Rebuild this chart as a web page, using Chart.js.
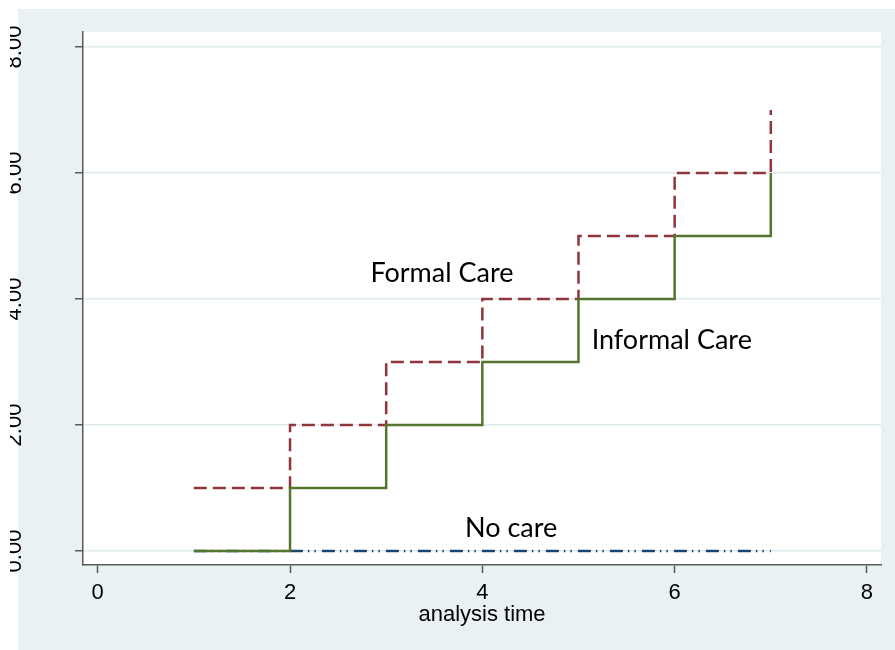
<!DOCTYPE html>
<html>
<head>
<meta charset="utf-8">
<script src="https://cdn.jsdelivr.net/npm/chart.js@4"></script>
<style>
  html, body { margin: 0; padding: 0; background: #ffffff; }
  #wrap { width: 895px; height: 650px; }
</style>
</head>
<body>
<div id="wrap"><canvas id="grafico" width="895" height="650"></canvas></div>
<script>
// datos
const tiempos = [1, 2, 3, 4, 5, 6, 7];
const cuidadoFormal = [1, 2, 3, 4, 5, 6, 7];
const cuidadoInformal = [0, 1, 2, 3, 4, 5, 6];
const sinCuidadoX = [1, 7];
const sinCuidado = [0, 0];

const ticksX = [0, 2, 4, 6, 8];
const ticksY = [0, 2, 4, 6, 8];
const etiquetasY = ["0.00", "2.00", "4.00", "6.00", "8.00"];

// etiquetas dentro del grafico (texto, x, y en unidades de datos)
const etiquetas = ["Formal Care", "Informal Care", "No care"];
const etiquetasPosX = [3.58, 5.97, 4.3];
const etiquetasPosY = [4.27, 3.21, 0.22];

const fondo = {
  id: "fondo",
  beforeDraw(chart) {
    const ctx = chart.ctx;
    const a = chart.chartArea;
    ctx.save();
    ctx.fillStyle = "#ffffff";
    ctx.fillRect(0, 0, chart.width, chart.height);
    ctx.fillStyle = "#eaf1f3";
    ctx.fillRect(18, 9, chart.width - 18, chart.height - 9);
    ctx.fillStyle = "#ffffff";
    ctx.fillRect(a.left, a.top, a.right - a.left, a.bottom - a.top);
    ctx.restore();
  }
};

const textos = {
  id: "textos",
  afterDatasetsDraw(chart) {
    const ctx = chart.ctx;
    const sx = chart.scales.x, sy = chart.scales.y;
    ctx.save();
    ctx.fillStyle = "#000000";
    ctx.font = "27px Lato";
    ctx.textAlign = "center";
    ctx.textBaseline = "alphabetic";
    etiquetas.forEach((t, i) => {
      ctx.fillText(t, sx.getPixelForValue(etiquetasPosX[i]), sy.getPixelForValue(etiquetasPosY[i]));
    });
    ctx.restore();
  },
  afterDraw(chart) {
    // etiquetas del eje y giradas y cortadas por el borde
    const ctx = chart.ctx;
    const sy = chart.scales.y;
    ctx.save();
    ctx.beginPath();
    ctx.rect(10, 0, 40, chart.height);
    ctx.clip();
    ctx.fillStyle = "#000000";
    ctx.font = "22px 'Liberation Sans'";
    ctx.textAlign = "center";
    ctx.textBaseline = "alphabetic";
    ticksY.forEach((v, i) => {
      ctx.save();
      ctx.translate(21, sy.getPixelForValue(v));
      ctx.rotate(-Math.PI / 2);
      ctx.fillText(etiquetasY[i], 0, 0);
      ctx.restore();
    });
    ctx.restore();
  }
};

const ctx = document.getElementById("grafico").getContext("2d");

new Chart(ctx, {
  type: "line",
  data: {
    datasets: [
      {
        label: "Informal Care",
        data: tiempos.map((t, i) => ({ x: t, y: cuidadoInformal[i] })),
        borderColor: "#55752f",
        borderWidth: 2.5,
        stepped: "before",
        pointRadius: 0,
        fill: false
      },
      {
        label: "Formal Care",
        data: tiempos.map((t, i) => ({ x: t, y: cuidadoFormal[i] })),
        borderColor: "#90353b",
        borderWidth: 2.5,
        borderDash: [13, 6],
        stepped: "before",
        pointRadius: 0,
        fill: false
      },
      {
        label: "No care",
        data: sinCuidadoX.map((t, i) => ({ x: t, y: sinCuidado[i] })),
        borderColor: "#1a476f",
        borderWidth: 2.5,
        borderDash: [13, 5, 1.5, 5, 1.5, 6],
        pointRadius: 0,
        fill: false
      }
    ]
  },
  options: {
    responsive: false,
    animation: false,
    events: [],
    layout: {
      padding: { left: 18, top: 32, right: 14, bottom: 0 }
    },
    plugins: {
      legend: { display: false },
      tooltip: { enabled: false }
    },
    scales: {
      x: {
        type: "linear",
        min: -0.153,
        max: 8.146,
        afterBuildTicks: (s) => { s.ticks = ticksX.map(v => ({ value: v })); },
        afterFit: (s) => { s.height = 85; },
        grid: {
          drawOnChartArea: false,
          drawTicks: true,
          tickLength: 8,
          tickColor: "#5a5a5a",
          tickWidth: 1.5
        },
        border: { display: true, color: "#5a5a5a", width: 1.5 },
        ticks: {
          color: "#000000",
          font: { family: "'Liberation Sans'", size: 22 },
          padding: 7,
          maxRotation: 0
        },
        title: {
          display: true,
          text: "analysis time",
          color: "#000000",
          font: { family: "'Liberation Sans'", size: 22 },
          padding: { top: 0, bottom: 22 }
        }
      },
      y: {
        type: "linear",
        min: -0.222,
        max: 8.238,
        afterBuildTicks: (s) => { s.ticks = ticksY.map(v => ({ value: v })); },
        afterFit: (s) => { s.width = 65; },
        grid: {
          color: "#e0ebee",
          lineWidth: 1.5,
          drawTicks: true,
          tickLength: 8,
          tickColor: "#5a5a5a",
          tickWidth: 1.5
        },
        border: { display: true, color: "#5a5a5a", width: 1.5 },
        ticks: { display: false }
      }
    }
  },
  plugins: [fondo, textos]
});
</script>
</body>
</html>
